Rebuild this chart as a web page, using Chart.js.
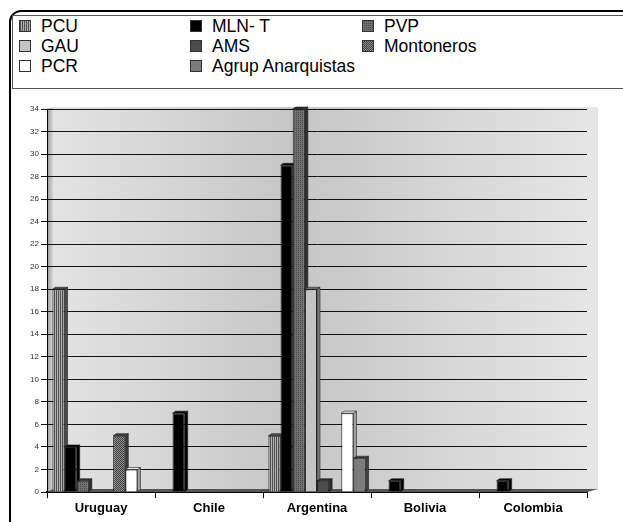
<!DOCTYPE html>
<html>
<head>
<meta charset="utf-8">
<script src="https://cdn.jsdelivr.net/npm/chart.js@4"></script>
<style>
  body { margin: 0; background: #fff; font-family: "Liberation Sans", Arial, sans-serif; }
  #wrap { position: relative; width: 623px; height: 522px; overflow: hidden; }
  #frame { position: absolute; left: 9px; top: 10px; width: 700px; height: 600px;
           border: 2px solid #000; border-radius: 12px; }
  #legend { position: absolute; left: 12px; top: 15px; width: 700px; height: 72px;
            border: 1px solid #555; border-right: none; }
  .item { position: absolute; font-size: 17.5px; line-height: 20px; color: #000; white-space: nowrap; }
  .box { display: inline-block; width: 10px; height: 10px; border: 1px solid #333;
         margin-right: 10px; vertical-align: 0px; }
  canvas { position: absolute; left: 0; top: 0; }
</style>
</head>
<body>
<div id="wrap">
  <div id="frame"></div>
  <div id="legend"></div>
  <canvas id="chart" width="623" height="522"></canvas>
</div>
<script>
// Categories and series
const countries = ['Uruguay', 'Chile', 'Argentina', 'Bolivia', 'Colombia'];
const groups = ['PCU', 'MLN- T', 'PVP', 'GAU', 'AMS', 'Montoneros', 'PCR', 'Agrup Anarquistas'];

const pcu        = [18, 0, 5, 0, 0];
const mlnT       = [4, 7, 29, 1, 1];
const pvp        = [1, 0, 34, 0, 0];
const gau        = [0, 0, 18, 0, 0];
const ams        = [0, 0, 1, 0, 0];
const montoneros = [5, 0, 0, 0, 0];
const pcr        = [2, 0, 7, 0, 0];
const agrup      = [0, 0, 3, 0, 0];

const seriesValues = [pcu, mlnT, pvp, gau, ams, montoneros, pcr, agrup];
const yTicks = [0, 2, 4, 6, 8, 10, 12, 14, 16, 18, 20, 22, 24, 26, 28, 30, 32, 34];

// fill patterns, made on small offscreen canvases
function makePattern(size, draw) {
    const c = document.createElement('canvas');
    c.width = size; c.height = size;
    draw(c.getContext('2d'));
    return c.getContext('2d').createPattern(c, 'repeat');
}
const stripes = makePattern(2, g => { g.fillStyle = '#b0b0b0'; g.fillRect(0, 0, 2, 2); g.fillStyle = '#505050'; g.fillRect(0, 0, 1, 2); });
const dots = makePattern(2, g => { g.fillStyle = '#707070'; g.fillRect(0, 0, 2, 2); g.fillStyle = '#4a4a4a'; g.fillRect(0, 0, 1, 1); });
const checker = makePattern(2, g => { g.fillStyle = '#909090'; g.fillRect(0, 0, 2, 2); g.fillStyle = '#404040'; g.fillRect(0, 0, 1, 1); g.fillRect(1, 1, 1, 1); });

const fills = [stripes, '#000000', dots, '#c4c4c4', '#4c4c4c', checker, '#ffffff', '#7c7c7c'];
const sideFills = ['#4a4a4a', '#000000', '#303030', '#7a7a7a', '#2a2a2a', '#3a3a3a', '#a0a0a0', '#404040'];
const cssFills = [
    'repeating-linear-gradient(90deg, #505050 0 1px, #b0b0b0 1px 2px)',
    '#000', 'repeating-conic-gradient(#4a4a4a 0 25%, #707070 0 100%) 0 0/2px 2px', '#c4c4c4', '#4c4c4c',
    'repeating-conic-gradient(#404040 0 25%, #909090 0 50%) 0 0/2px 2px', '#fff', '#7c7c7c'
];

// legend laid out in 3 columns, row by row
const legendEl = document.getElementById('legend');
const colX = [6, 177, 349];
const rowY = [0, 20, 40];
groups.forEach((name, i) => {
    const d = document.createElement('div');
    d.className = 'item';
    d.style.left = colX[i % 3] + 'px';
    d.style.top = rowY[Math.floor(i / 3)] + 'px';
    const b = document.createElement('span');
    b.className = 'box';
    b.style.background = cssFills[i];
    d.appendChild(b);
    d.appendChild(document.createTextNode(name));
    legendEl.appendChild(d);
});

// backdrop: shaded wall, left side wall and floor
const backdrop = {
    id: 'backdrop',
    beforeDraw(chart) {
        const { ctx, chartArea: a } = chart;
        ctx.save();
        const g = ctx.createLinearGradient(a.left, 0, a.right + 11, 0);
        g.addColorStop(0, '#e4e4e4');
        g.addColorStop(0.45, '#c6c6c6');
        g.addColorStop(1, '#e6e6e6');
        ctx.fillStyle = g;
        ctx.fillRect(a.left + 6, a.top - 2, a.right - a.left + 5, a.bottom - a.top);
        const w = ctx.createLinearGradient(a.left, 0, a.left + 6, 0);
        w.addColorStop(0, '#9a9a9a');
        w.addColorStop(1, '#d8d8d8');
        ctx.fillStyle = w;
        ctx.beginPath();
        ctx.moveTo(a.left, a.top); ctx.lineTo(a.left + 6, a.top - 2);
        ctx.lineTo(a.left + 6, a.bottom - 3); ctx.lineTo(a.left, a.bottom);
        ctx.closePath(); ctx.fill();
        ctx.restore();
    },
    beforeDatasetsDraw(chart) {
        const { ctx, chartArea: a } = chart;
        ctx.save();
        ctx.fillStyle = '#555';
        ctx.beginPath();
        ctx.moveTo(a.left, a.bottom); ctx.lineTo(a.left + 6, a.bottom - 3);
        ctx.lineTo(a.right + 11, a.bottom - 3); ctx.lineTo(a.right, a.bottom);
        ctx.closePath(); ctx.fill();
        // side and top faces of each bar
        chart.data.datasets.forEach((ds, i) => {
            chart.getDatasetMeta(i).data.forEach((bar, j) => {
                if (!ds.data[j]) return;
                const r = bar.x + bar.width / 2, l = bar.x - bar.width / 2;
                ctx.fillStyle = sideFills[i];
                ctx.strokeStyle = '#222';
                ctx.lineWidth = 0.6;
                ctx.beginPath();
                ctx.moveTo(r, bar.y); ctx.lineTo(r + 3, bar.y - 2);
                ctx.lineTo(r + 3, bar.base - 2); ctx.lineTo(r, bar.base);
                ctx.closePath(); ctx.fill(); ctx.stroke();
                ctx.fillStyle = i === 6 ? '#eee' : sideFills[i];
                ctx.beginPath();
                ctx.moveTo(l, bar.y); ctx.lineTo(l + 3, bar.y - 2);
                ctx.lineTo(r + 3, bar.y - 2); ctx.lineTo(r, bar.y);
                ctx.closePath(); ctx.fill(); ctx.stroke();
            });
        });
        ctx.restore();
    }
};

new Chart(document.getElementById('chart').getContext('2d'), {
    type: 'bar',
    data: {
        labels: countries,
        datasets: groups.map((name, i) => ({
            label: name,
            data: seriesValues[i],
            backgroundColor: fills[i],
            borderColor: '#222',
            borderWidth: 1,
            categoryPercentage: 0.9,
            barPercentage: 1
        }))
    },
    options: {
        responsive: false,
        devicePixelRatio: 1,
        animation: false,
        layout: { padding: { top: 109, right: 36, left: 0, bottom: 0 } },
        plugins: { legend: { display: false }, tooltip: { enabled: false } },
        scales: {
            x: {
                afterFit: s => { s.height = 30; },
                grid: { drawOnChartArea: false, color: '#000', tickLength: 6 },
                border: { color: '#000', width: 1.5 },
                ticks: { color: '#000', padding: 3, font: { family: 'Liberation Sans', size: 13, weight: 'bold' } }
            },
            y: {
                min: 0,
                max: 34,
                afterFit: s => { s.width = 47; },
                afterBuildTicks: s => { s.ticks = yTicks.map(v => ({ value: v })); },
                grid: { color: '#111', lineWidth: 1, tickLength: 6 },
                border: { color: '#000' },
                ticks: { color: '#333', padding: 2, font: { family: 'Liberation Sans', size: 8 } }
            }
        }
    },
    plugins: [backdrop]
});
</script>
</body>
</html>
